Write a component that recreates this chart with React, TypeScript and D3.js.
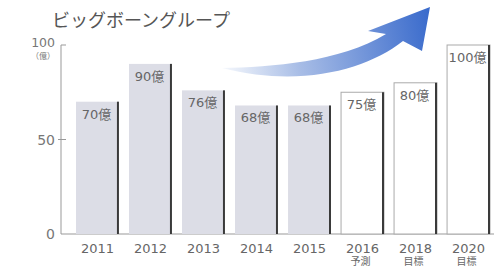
import React from 'react';
import * as d3 from 'd3';

const years = ['2011', '2012', '2013', '2014', '2015', '2016', '2018', '2020'];
const notes = ['', '', '', '', '', '予測', '目標', '目標'];
const values = [70, 90, 76, 68, 68, 75, 80, 100];
const planned = [false, false, false, false, false, true, true, true];
const yTicks = [0, 50, 100];

const title = 'ビッグボーングループ';
const unit = '（億）';
const font = '"DejaVu Sans", "Noto Sans CJK JP", sans-serif';

export default function App() {
  const width = 494;
  const height = 266;

  const x = d3.scaleBand<string>()
    .domain(years)
    .range([76, 490])
    .paddingInner(0.19)
    .paddingOuter(0);

  const y = d3.scaleLinear().domain([0, 100]).range([234, 45]);
  const axisX = 61;

  // swoosh arrow, drawn in pixel space above the bars
  const arrow = d3.path();
  arrow.moveTo(222, 68);
  arrow.bezierCurveTo(272, 67, 340, 62, 386, 34);
  arrow.lineTo(368, 31);
  arrow.lineTo(430, 7);
  arrow.lineTo(422, 51);
  arrow.lineTo(403, 41);
  arrow.bezierCurveTo(366, 70, 300, 88, 222, 68);
  arrow.closePath();

  return (
    <svg
      width={width}
      height={height}
      style={{ position: 'absolute', left: 0, top: 0, background: '#fff' }}
      fontFamily={font}
    >
      <defs>
        <linearGradient id="arrowGrad" gradientUnits="userSpaceOnUse" x1={222} y1={60} x2={430} y2={20}>
          <stop offset="0" stopColor="#f4f7fc" />
          <stop offset="0.35" stopColor="#a8bde6" />
          <stop offset="1" stopColor="#3a6bcc" />
        </linearGradient>
      </defs>

      <text x={52} y={27} fontSize={18} fill="#555">{title}</text>

      <path d={arrow.toString()} fill="url(#arrowGrad)" />

      {/* axis */}
      <line x1={axisX} x2={axisX} y1={y(100)} y2={y(0)} stroke="#999" strokeWidth={1} />
      <line x1={axisX} x2={width} y1={y(0)} y2={y(0)} stroke="#999" strokeWidth={1} />
      {yTicks.map((t) => (
        <g key={t}>
          {t > 0 && (
            <line x1={t === 100 ? axisX : axisX - 3} x2={axisX + 5} y1={y(t)} y2={y(t)} stroke="#999" />
          )}
          <text
            x={55}
            y={t === 100 ? y(t) + 2 : y(t) + 5}
            textAnchor="end"
            fontSize={t === 100 ? 12.5 : 14}
            fill="#777"
          >
            {t}
          </text>
        </g>
      ))}
      <text x={55} y={y(100) + 14} textAnchor="end" fontSize={8} fill="#777">{unit}</text>

      {years.map((yr, i) => {
        const bx = x(yr) as number;
        const bw = x.bandwidth();
        const top = y(values[i]);
        const h = y(0) - top;
        return (
          <g key={yr}>
            <rect
              x={bx}
              y={top}
              width={bw}
              height={h}
              fill={planned[i] ? '#fff' : '#dcdde6'}
              stroke={planned[i] ? '#aaa' : 'none'}
              strokeWidth={1}
            />
            <line x1={bx + bw - 1} x2={bx + bw - 1} y1={top} y2={y(0)} stroke="#3a3a3a" strokeWidth={2} />
            <text x={bx + bw / 2 - 1} y={top + 17} textAnchor="middle" fontSize={13} fill="#666">
              {`${values[i]}億`}
            </text>
            <text x={bx + bw / 2} y={253} textAnchor="middle" fontSize={13} fill="#666">{yr}</text>
            {notes[i] && (
              <text x={bx + bw / 2 - 2} y={265} textAnchor="middle" fontSize={10} fill="#666">{notes[i]}</text>
            )}
          </g>
        );
      })}
    </svg>
  );
}
